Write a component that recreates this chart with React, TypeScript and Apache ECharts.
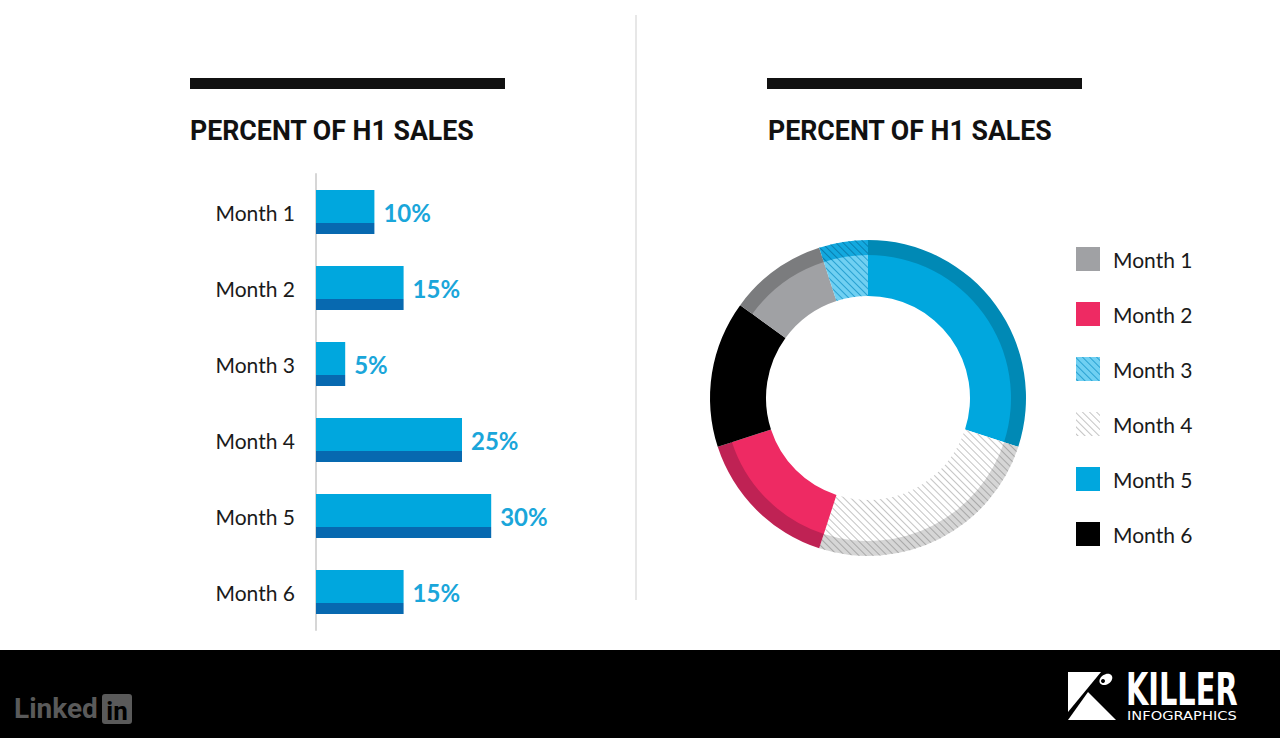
import React, { useEffect, useRef } from "react";
import * as echarts from "echarts";

const categories = ["Month 1", "Month 2", "Month 3", "Month 4", "Month 5", "Month 6"];
const barValues = [10, 15, 5, 25, 30, 15];
const pieOrder = ["Month 5", "Month 4", "Month 2", "Month 6", "Month 1", "Month 3"];
const titleText = "PERCENT OF H1 SALES";

const innerColors: Record<string, string> = {
  "Month 1": "#a0a1a4",
  "Month 2": "#ee2a63",
  "Month 3": "#70d0f2",
  "Month 4": "#ffffff",
  "Month 5": "#00a7de",
  "Month 6": "#000000",
};
const outerColors: Record<string, string> = {
  "Month 1": "#7b7c7e",
  "Month 2": "#bf2254",
  "Month 3": "#13a9df",
  "Month 4": "#d6d6d6",
  "Month 5": "#0089b5",
  "Month 6": "#000000",
};
const hatchColors: Record<string, string> = {
  "Month 3": "#2aa2d2",
  "Month 4": "#c4c4c4",
};
const outerHatch: Record<string, string> = {
  "Month 3": "#0a7fb0",
  "Month 4": "#a8a8a8",
};

function makeDecal(color: string) {
  return {
    symbol: "rect",
    symbolSize: 1,
    color,
    dashArrayX: [1, 0],
    dashArrayY: [1, 4],
    rotation: Math.PI / 4,
  };
}

export default function App() {
  const ref = useRef<HTMLDivElement>(null);
  useEffect(() => {
    if (!ref.current) return;
    const chart = echarts.init(ref.current, null, { renderer: "svg" });
    const valueOf = (name: string) => barValues[categories.indexOf(name)];
    const innerData = pieOrder.map((name) => ({
      name,
      value: valueOf(name),
      itemStyle: {
        color: innerColors[name],
        ...(hatchColors[name] ? { decal: makeDecal(hatchColors[name]) } : {}),
      },
    }));
    const outerData = pieOrder.map((name) => ({
      name,
      value: valueOf(name),
      itemStyle: {
        color: outerColors[name],
        ...(outerHatch[name] ? { decal: makeDecal(outerHatch[name]) } : {}),
      },
    }));
    const barGradient = new echarts.graphic.LinearGradient(0, 0, 0, 1, [
      { offset: 0, color: "#00a7de" },
      { offset: 0.75, color: "#00a7de" },
      { offset: 0.75, color: "#0769b0" },
      { offset: 1, color: "#0769b0" },
    ]);
    const option: any = {
      animation: false,
      backgroundColor: "#ffffff",
      grid: { left: 316, top: 174, width: 292, height: 456 },
      xAxis: { type: "value", min: 0, max: 50, show: false },
      yAxis: {
        type: "category",
        data: categories,
        inverse: true,
        axisLine: { show: true, lineStyle: { color: "#d6d6d6", width: 2 } },
        axisTick: { show: false },
        axisLabel: { fontSize: 21, color: "#1a1a1a", margin: 21, fontFamily: "Lato", padding: [0, 0, 4, 0] },
      },
      legend: {
        data: categories,
        orient: "vertical",
        left: 1076,
        top: 247,
        padding: 0,
        itemWidth: 24,
        itemHeight: 24,
        itemGap: 31,
        icon: "rect",
        selectedMode: false,
        textStyle: { fontSize: 21, color: "#1a1a1a", fontFamily: "Lato", padding: [0, 0, 0, 8] },
      },
      series: [
        {
          type: "bar",
          data: barValues,
          barWidth: 44,
          itemStyle: { color: barGradient },
          label: {
            show: true,
            position: "right",
            distance: 9,
            formatter: "{c}%",
            fontSize: 24,
            fontWeight: "bold",
            color: "#1aa6da",
            fontFamily: "Lato",
          },
          silent: true,
        },
        {
          type: "pie",
          center: [868, 398],
          radius: [102, 144],
          startAngle: 90,
          clockwise: true,
          label: { show: false },
          labelLine: { show: false },
          silent: true,
          data: innerData,
        },
        {
          type: "pie",
          center: [868, 398],
          radius: [143, 158],
          startAngle: 90,
          clockwise: true,
          label: { show: false },
          labelLine: { show: false },
          silent: true,
          data: outerData,
        },
      ],
      graphic: [
        { type: "rect", shape: { x: 190, y: 78, width: 315, height: 11 }, style: { fill: "#111111" } },
        { type: "rect", shape: { x: 767, y: 78, width: 315, height: 11 }, style: { fill: "#111111" } },
        {
          type: "text",
          x: 190,
          y: 117,
          scaleX: 0.955,
          style: { text: titleText, fontSize: 28, fontWeight: "bold", fontFamily: "Roboto", fill: "#111111" },
        },
        {
          type: "text",
          x: 768,
          y: 117,
          scaleX: 0.955,
          style: { text: titleText, fontSize: 28, fontWeight: "bold", fontFamily: "Roboto", fill: "#111111" },
        },
        { type: "line", shape: { x1: 636, y1: 15, x2: 636, y2: 600 }, style: { stroke: "#cfcfcf", lineWidth: 1 } },
        { type: "rect", shape: { x: 0, y: 650, width: 1280, height: 88 }, style: { fill: "#000000" } },
        {
          type: "text",
          x: 14,
          y: 694,
          style: { text: "Linked", fontSize: 28, fontWeight: "bold", fontFamily: "Roboto", fill: "#5a5a5a" },
        },
        { type: "rect", shape: { x: 102, y: 694, width: 30, height: 30, r: 3 }, style: { fill: "#5a5a5a" } },
        {
          type: "text",
          x: 117,
          y: 711,
          style: {
            text: "in",
            fontSize: 26,
            fontWeight: "bold",
            fontFamily: "Roboto",
            fill: "#000000",
            align: "center",
            verticalAlign: "middle",
          },
        },
        { type: "polygon", shape: { points: [[1068, 672], [1101, 672], [1068, 712]] }, style: { fill: "#ffffff" } },
        { type: "polygon", shape: { points: [[1088, 692], [1116, 720], [1068, 720]] }, style: { fill: "#ffffff" } },
        { type: "ellipse", shape: { cx: 1106, cy: 680, rx: 7, ry: 5 }, rotation: 0.6, originX: 1106, originY: 680, style: { fill: "#ffffff" } },
        { type: "circle", shape: { cx: 1103, cy: 681, r: 2 }, style: { fill: "#000000" } },
        {
          type: "text",
          x: 1126,
          y: 667,
          scaleX: 0.64,
          style: { text: "KILLER", fontSize: 45, fontWeight: "bold", fontFamily: "DejaVu Sans", fill: "#ffffff" },
        },
        {
          type: "text",
          x: 1127,
          y: 710,
          scaleX: 1.22,
          style: { text: "INFOGRAPHICS", fontSize: 12, fontFamily: "DejaVu Sans", fill: "#ffffff" },
        },
      ],
    };
    chart.setOption(option);
    return () => chart.dispose();
  }, []);
  return (
    <div
      ref={ref}
      style={{ position: "fixed", left: 0, top: 0, width: 1280, height: 738 }}
    />
  );
}
